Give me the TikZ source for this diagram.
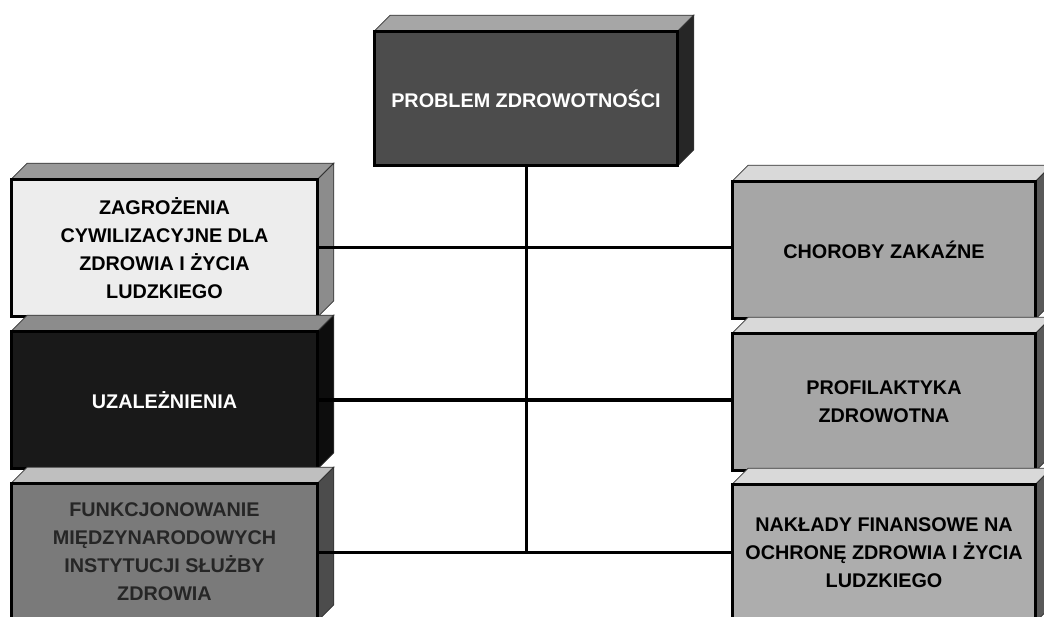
\documentclass[tikz,border=0pt]{standalone}
\usepackage{fontspec}
\setmainfont{Liberation Sans}
\begin{document}
\begin{tikzpicture}[x=1pt,y=-1pt,
  box/.style={draw=black,line width=1.6pt,rectangle,minimum width=302pt,minimum height=136pt,
     align=center,inner sep=0pt,font=\bfseries\fontsize{19.8}{28}\selectfont},
  link/.style={line width=3pt,black},
  face/.style={draw=black!80,line width=0.8pt}]
\useasboundingbox (0,0) rectangle (1044,617);
\clip (0,0) rectangle (1044,617);
\def\dd{16}
% nodes
\node[box,fill=black!70,text=white,minimum height=133pt] (top) at (526,98.5) {PROBLEM ZDROWOTNOŚCI};
\node[box,fill=black!7,text=black,minimum width=305pt] (l1) at (164.5,248) {ZAGROŻENIA\\CYWILIZACYJNE DLA\\ZDROWIA I ŻYCIA\\LUDZKIEGO};
\node[box,fill=black!90,text=white,minimum width=305pt] (l2) at (164.5,400) {UZALEŻNIENIA};
\node[box,fill=black!52,text=black!85,minimum width=305pt] (l3) at (164.5,552) {FUNKCJONOWANIE\\MIĘDZYNARODOWYCH\\INSTYTUCJI SŁUŻBY\\ZDROWIA};
\node[box,fill=black!35,text=black] (r1) at (884,250) {CHOROBY ZAKAŹNE};
\node[box,fill=black!35,text=black] (r2) at (884,402) {PROFILAKTYKA\\ZDROWOTNA};
\node[box,fill=black!32,text=black] (r3) at (884,553) {NAKŁADY FINANSOWE NA\\OCHRONĘ ZDROWIA I ŻYCIA\\LUDZKIEGO};
% 3D faces: top and right side
\foreach \n/\tp/\sd in {top/black!35/black!85, l1/black!40/black!45, l2/black!45/black!95,
   l3/black!25/black!70, r1/black!15/black!65, r2/black!15/black!65, r3/black!15/black!65}{
  \filldraw[face,fill=\tp] (\n.north west) -- ++(\dd,-\dd) -- ([shift={(\dd,-\dd)}]\n.north east) -- (\n.north east) -- cycle;
  \filldraw[face,fill=\sd] (\n.north east) -- ++(\dd,-\dd) -- ([shift={(\dd,-\dd)}]\n.south east) -- (\n.south east) -- cycle;
  \draw[line width=1.6pt] (\n.north west) rectangle (\n.south east);
}
% connectors
\coordinate (j3) at (top.south |- l3.east);
\draw[link] (top.south) -- (j3);
\draw[link] (l1.east) -- (r1.west |- l1.east);
\draw[link] (l2.east) -- (r2.west |- l2.east);
\draw[link] (l3.east) -- (r3.west |- l3.east);
\end{tikzpicture}
\end{document}
